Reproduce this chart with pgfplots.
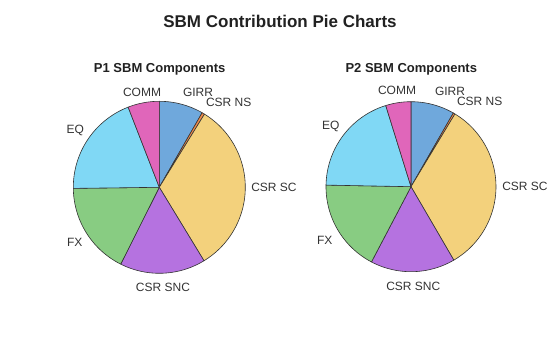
\documentclass[border=0pt]{standalone}
\usepackage{pgfplots}
\pgfplotsset{compat=1.18}
\usepackage{fontspec}
\setmainfont{Liberation Sans}
\definecolor{cGIRR}{HTML}{6FA8DC}
\definecolor{cNS}{HTML}{F08A4B}
\definecolor{cSC}{HTML}{F3D17C}
\definecolor{cSNC}{HTML}{B572E0}
\definecolor{cFX}{HTML}{88CC82}
\definecolor{cEQ}{HTML}{80D8F5}
\definecolor{cCOMM}{HTML}{E066BA}
\definecolor{edgec}{HTML}{333333}
\definecolor{txt}{HTML}{333333}
\newcommand\cum{0}
% #1 cx, #2 cy, #3 radius, #4 share (percent), #5 colour
\newcommand\slice[5]{%
  \pgfmathsetmacro\aS{90-3.6*\cum}%
  \pgfmathsetmacro\newcum{\cum+#4}%
  \pgfmathsetmacro\aE{90-3.6*\newcum}%
  \xdef\cum{\newcum}%
  \edef\doplot{\noexpand\addplot[fill=#5, draw=edgec, line width=0.6pt, line join=round, domain=\aE:\aS, samples=60, variable=\noexpand\t] ({#1+#3*cos(\noexpand\t)},{#2+#3*sin(\noexpand\t)}) -- (axis cs:#1,#2) -- cycle;}%
  \doplot}
\begin{document}
\begin{tikzpicture}
\useasboundingbox (0,0) rectangle (560bp,337bp);
\begin{axis}[at={(0,0)}, anchor=south west, scale only axis, width=560bp, height=337bp,
  xmin=0, xmax=560, ymin=0, ymax=337, hide axis, clip=false]
% P1 shares (percent)
\gdef\cum{0}
\slice{159.3}{149.7}{86}{8.3}{cGIRR}
\slice{159.3}{149.7}{86}{0.5}{cNS}
\slice{159.3}{149.7}{86}{32.5}{cSC}
\slice{159.3}{149.7}{86}{16.1}{cSNC}
\slice{159.3}{149.7}{86}{17.4}{cFX}
\slice{159.3}{149.7}{86}{19.3}{cEQ}
\slice{159.3}{149.7}{86}{5.9}{cCOMM}
% P2 shares (percent)
\gdef\cum{0}
\slice{411}{150.3}{85}{8.3}{cGIRR}
\slice{411}{150.3}{85}{0.35}{cNS}
\slice{411}{150.3}{85}{32.95}{cSC}
\slice{411}{150.3}{85}{16.1}{cSNC}
\slice{411}{150.3}{85}{17.6}{cFX}
\slice{411}{150.3}{85}{19.9}{cEQ}
\slice{411}{150.3}{85}{4.8}{cCOMM}
\end{axis}
\begin{scope}[x=1bp,y=1bp]
\node[text=black!87, font=\fontsize{17bp}{20bp}\selectfont\bfseries, inner sep=0] at (280,316) {SBM Contribution Pie Charts};
\node[text=black!87, font=\fontsize{13bp}{16bp}\selectfont\bfseries, inner sep=0] at (159.7,267.7) {P1 SBM Components};
\node[text=black!87, font=\fontsize{13bp}{16bp}\selectfont\bfseries, inner sep=0] at (411.3,267.7) {P2 SBM Components};
\begin{scope}[every node/.style={text=txt, font=\fontsize{12bp}{14bp}\selectfont, inner sep=0}]
\node at (142,245) {COMM};
\node at (198,245) {GIRR};
\node at (228.7,235) {CSR NS};
\node at (274,149.7) {CSR SC};
\node at (163,49.7) {CSR SNC};
\node at (74.7,94.3) {FX};
\node at (75.3,207) {EQ};
\node at (397,246.3) {COMM};
\node at (450,245.3) {GIRR};
\node at (479.7,235.3) {CSR NS};
\node at (525,150.3) {CSR SC};
\node at (413.3,50.3) {CSR SNC};
\node at (324.7,97) {FX};
\node at (330.7,211) {EQ};
\end{scope}
\end{scope}
\end{tikzpicture}
\end{document}
